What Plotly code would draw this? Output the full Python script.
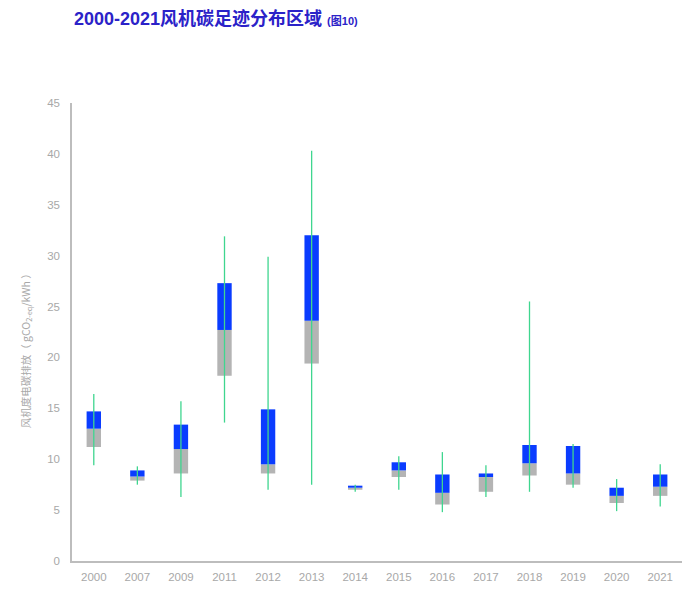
import plotly.graph_objects as go

years = ["2000", "2007", "2009", "2011", "2012", "2013", "2014", "2015", "2016", "2017", "2018", "2019", "2020", "2021"]
whisker_low = [9.4, 7.5, 6.3, 13.6, 7.0, 7.5, 6.8, 7.0, 4.8, 6.3, 6.8, 7.2, 4.9, 5.35]
q1 = [11.2, 7.9, 8.6, 18.2, 8.6, 19.4, 7.0, 8.25, 5.55, 6.8, 8.4, 7.5, 5.7, 6.4]
median = [13.0, 8.3, 11.0, 22.7, 9.5, 23.6, 7.2, 8.9, 6.7, 8.25, 9.6, 8.6, 6.4, 7.3]
q3 = [14.7, 8.9, 13.4, 27.3, 14.9, 32.0, 7.4, 9.7, 8.5, 8.6, 11.4, 11.3, 7.2, 8.5]
whisker_high = [16.4, 9.3, 15.7, 31.9, 29.9, 40.3, 7.5, 10.3, 10.7, 9.4, 25.5, 11.5, 8.05, 9.5]

GREY = "#b4b4b4"
BLUE = "#0a3cff"
GREEN = "#3fd68f"
TXT = "#a8a8a8"

wx, wy = [], []
for y, lo, hi in zip(years, whisker_low, whisker_high):
    wx += [y, y, None]
    wy += [lo, hi, None]

fig = go.Figure()
fig.add_trace(go.Scatter(x=wx, y=wy, mode="lines", line=dict(color=GREEN, width=1.3),
                         hoverinfo="skip", showlegend=False))
fig.add_trace(go.Bar(x=years, y=[m - a for m, a in zip(median, q1)], base=q1,
                     marker=dict(color=GREY, line=dict(width=0)), width=0.33, showlegend=False))
fig.add_trace(go.Bar(x=years, y=[b - m for b, m in zip(q3, median)], base=median,
                     marker=dict(color=BLUE, line=dict(width=0)), width=0.33, showlegend=False))

fig.update_layout(
    width=700, height=595,
    margin=dict(l=72, r=18, t=103, b=34),
    paper_bgcolor="white", plot_bgcolor="white",
    barmode="overlay",
    font=dict(family="Liberation Sans, Arial, sans-serif", color=TXT, size=11),
    xaxis=dict(type="category", showgrid=False, showline=True, linecolor="#bdbdbd", linewidth=1.5,
               ticks="", tickfont=dict(size=11.5, color=TXT), zeroline=False, ticklabelstandoff=4),
    yaxis=dict(range=[0, 45], dtick=5, showgrid=False, showline=True, linecolor="#bdbdbd", linewidth=1.5,
               ticks="", tickfont=dict(size=11.5, color=TXT), zeroline=False, ticklabelstandoff=8),
    annotations=[
        dict(xref="paper", yref="paper", x=0.0, y=1.0, yshift=72, xanchor="left", yanchor="bottom",
             text="<b>2000-2021风机碳足迹分布区域</b> <b><span style='font-size:11px'>(图10)</span></b>",
             showarrow=False, font=dict(family="Liberation Sans, Noto Sans CJK SC, sans-serif", size=18, color="#2b22c8"),
             ),
        dict(xref="paper", yref="paper", x=-0.075, y=0.465, xanchor="center", yanchor="middle", textangle=-90,
             text="风机度电碳排放（ gCO<sub>2-eq</sub>/kWh ）", showarrow=False,
             font=dict(family="Noto Sans CJK SC, Liberation Sans, sans-serif", size=10.5, color=TXT)),
    ],
)
fig.write_html("out.html")
